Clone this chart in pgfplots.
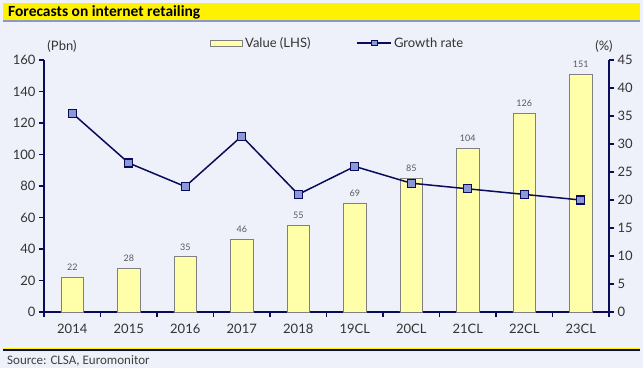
\documentclass[border=0pt]{standalone}
\usepackage{pgfplots}
\pgfplotsset{compat=1.18}
\usepackage{fontspec}
\setmainfont{Lato}
\newfontfamily\carlito{Carlito}
\definecolor{bg}{HTML}{EEF1FA}
\definecolor{navy}{HTML}{0B0B5C}
\definecolor{baryellow}{HTML}{FFFFAA}
\definecolor{barborder}{HTML}{808080}
\definecolor{mk}{HTML}{8A9AD6}
\definecolor{titley}{HTML}{FFF200}
\definecolor{titleline}{HTML}{8E98C0}
\pgfplotsset{
  lineleg/.style={legend image code/.code={\draw[mark repeat=2, mark phase=2, ##1, mark size=2.8pt] plot coordinates {(0pt,0pt) (17pt,0pt) (34pt,0pt)};}},
  boxleg/.style={legend image code/.code={\draw[fill=baryellow, draw=barborder, line width=0.7pt] (0pt,-3pt) rectangle (32pt,3pt);}},
}
\begin{document}
\begin{tikzpicture}[x=1pt,y=1pt]
\fill[bg] (0,0) rectangle (643,368);
\useasboundingbox (0,0) rectangle (643,368);
\fill[titley] (3,348) rectangle (640,365);
\fill[titleline] (3,346) rectangle (640,348);
\node[anchor=west, inner sep=0pt, font=\carlito\bfseries\fontsize{15.5}{17}\selectfont] at (8,355.5) {Forecasts on internet retailing};
\fill[titley] (3,18.6) rectangle (640,20);
\fill[navy] (3,16.8) rectangle (640,18.6);
\node[anchor=west, inner sep=0pt, font=\carlito\fontsize{13}{15}\selectfont, text=black!75] at (7,7) {Source: CLSA, Euromonitor};
\node[font=\fontsize{13}{15}\selectfont, text=black!80] at (62,322) {(Pbn)};
\node[font=\fontsize{13}{15}\selectfont, text=black!80] at (604,322) {(\%)};

\begin{axis}[
  at={(44pt,56pt)}, anchor=south west, scale only axis,
  width=565pt, height=252pt,
  xmin=-0.5, xmax=9.5, ymin=0, ymax=160,
  ytick={0,20,...,160},
  axis x line*=bottom, axis y line*=left,
  axis line style={-, navy, line width=1.6pt},
  xtick={0,...,9},
  xticklabels={2014,2015,2016,2017,2018,19CL,20CL,21CL,22CL,23CL},
  major x tick style={draw=none},
  minor xtick={-0.5,0.5,...,9.5},
  minor x tick style={navy, line width=1.6pt},
  minor tick length=5pt,
  major tick length=5pt,
  tick align=outside,
  y tick style={navy, line width=1.6pt},
  tick label style={font=\fontsize{13}{15}\selectfont, text=black!80},
  xticklabel style={yshift=-4pt},
  /pgf/number format/assume math mode=true,
  bar width=0.4,
  nodes near coords,
  nodes near coords style={font=\fontsize{9}{11}\selectfont, text=black!65, yshift=3pt},
]
\addplot[ybar, fill=baryellow, draw=barborder, line width=0.8pt] coordinates {
(0,22) (1,28) (2,35) (3,46) (4,55) (5,69) (6,85) (7,104) (8,126) (9,151)};
\end{axis}

\begin{axis}[
  at={(44pt,56pt)}, anchor=south west, scale only axis,
  width=565pt, height=252pt,
  xmin=-0.5, xmax=9.5, ymin=0, ymax=45,
  ytick={0,5,...,45},
  axis x line=none, axis y line*=right,
  axis line style={-, navy, line width=1.6pt},
  major tick length=5pt,
  tick align=outside,
  y tick style={navy, line width=1.6pt},
  tick label style={font=\fontsize{13}{15}\selectfont, text=black!80},
  /pgf/number format/assume math mode=true,
  legend columns=2,
  legend style={at={(0.52,1)}, anchor=south, yshift=7pt, draw=none, fill=none,
    font=\fontsize{13}{15}\selectfont, text=black!80,
    /tikz/every even column/.append style={column sep=44pt}},
]
\addlegendimage{boxleg}
\addlegendentry{Value (LHS)}
\addplot[navy, line width=1.5pt, mark=square*, mark size=4pt,
  mark options={fill=mk, draw=navy, line width=1.2pt}, lineleg]
coordinates {(0,35.5) (1,26.6) (2,22.4) (3,31.4) (4,21.0) (5,26.0) (6,23.0) (7,22.0) (8,21.0) (9,20.0)};
\addlegendentry{Growth rate}
\end{axis}
\end{tikzpicture}
\end{document}
